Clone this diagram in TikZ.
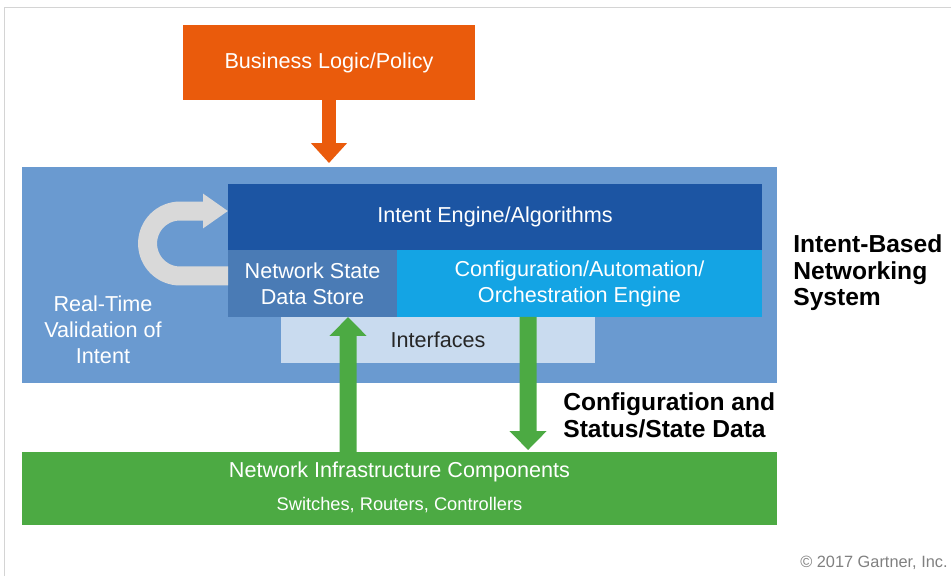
\documentclass[tikz,border=0pt]{standalone}
\usepackage{fontspec}
\setmainfont{Liberation Sans}
\usepackage{tikz}
\usetikzlibrary{calc}
\usetikzlibrary{arrows.meta,positioning}
\usepackage{xcolor}
\definecolor{bizorange}{HTML}{EA5B0C}
\definecolor{sysblue}{HTML}{6A9AD0}
\definecolor{engblue}{HTML}{1C55A3}
\definecolor{nsblue}{HTML}{4A7BB5}
\definecolor{cfgblue}{HTML}{14A4E4}
\definecolor{intfblue}{HTML}{C9DBEF}
\definecolor{infragreen}{HTML}{4CAA43}
\definecolor{loopgray}{HTML}{D9D9D9}
\definecolor{framegray}{HTML}{D4D4D4}
\newcommand{\txt}{\fontsize{12.3}{14.8}\selectfont}
\newcommand{\bld}{\fontsize{14}{15.1}\selectfont\bfseries}

\begin{document}
\begin{tikzpicture}[x=0.02cm,y=-0.02cm,
    box/.style={inner sep=0pt,outer sep=0pt,align=center,text=white,font=\txt},
    label/.style={inner sep=0pt,align=left,font=\bld,text=black},
    bigarrow/.style={line width=0.28cm,-{Triangle[width=0.7cm,length=0.4cm]}},
    greenarrow/.style={line width=0.34cm,infragreen,-{Triangle[width=0.72cm,length=0.38cm]}}]
  \useasboundingbox (0,0) rectangle (951,576);
  \draw[framegray] (4,576) -- (4,7) -- (951,7);

  % boxes
  \node[box,fill=bizorange,minimum width=5.84cm,minimum height=1.5cm] (biz) at (329,62.5) {Business Logic/Policy};
  \node[box,fill=sysblue,minimum width=15.1cm,minimum height=4.32cm] (sys) at (399.5,275) {};
  \node[box,fill=engblue,minimum width=10.68cm,minimum height=1.32cm] (engine) at (495,217) {Intent Engine/Algorithms};
  \node[box,fill=nsblue,minimum width=3.38cm,minimum height=1.34cm,below=0pt of engine.south west,anchor=north west] (ns) {Network State\\Data Store};
  \node[box,fill=cfgblue,minimum width=7.3cm,minimum height=1.34cm,right=0pt of ns] (cfg) {Configuration/Automation/\\Orchestration Engine};
  \node[box,fill=intfblue,text=black!85,minimum width=6.28cm,minimum height=0.92cm,below=0pt of ns.south west,anchor=north west,xshift=1.06cm] (intf) {Interfaces};
  \node[box,fill=infragreen,minimum width=15.1cm,minimum height=1.46cm] (infra) at (399.5,488.5) {};
  \node[box] (infratitle) at ($(infra.north)+(0,20)$) {Network Infrastructure Components};
  \node[box,font=\fontsize{10.4}{12}\selectfont] (infrasub) at ($(infra.south)+(0,-20)$) {Switches, Routers, Controllers};

  % texts
  \node[box] (valid) at (103,330) {Real-Time\\Validation of\\Intent};
  \node[label,anchor=west] (ibns) at (793,273) {Intent-Based\\Networking\\System};
  \node[label,anchor=west] (csd) at (563,415.5) {Configuration and\\Status/State Data};
  \node[inner sep=0pt,anchor=east,text=black!50,font=\fontsize{9.3}{10}\selectfont] (copy) at (948,563) {© 2017 Gartner, Inc.};

  % arrows
  \draw[bigarrow,bizorange,shorten >=0.08cm] (biz.south) -- (biz.south |- sys.north);
  \draw[greenarrow] ($(infra.north west)+(326,0)$) -- ($(ns.south west)+(120,0)$);
  \draw[greenarrow,shorten >=0.04cm] ($(cfg.south west)+(131,0)$) -- ($(infra.north west)+(506,0)$);
  \draw[line width=0.38cm,loopgray,-{Triangle[width=0.66cm,length=0.5cm]}]
    ($(ns.west)+(0,-7.5)$) -- ++(-48,0) arc[start angle=270,end angle=90,radius=0.65cm]
    -- ($(engine.west)+(0,-6)$);
\end{tikzpicture}
\end{document}
